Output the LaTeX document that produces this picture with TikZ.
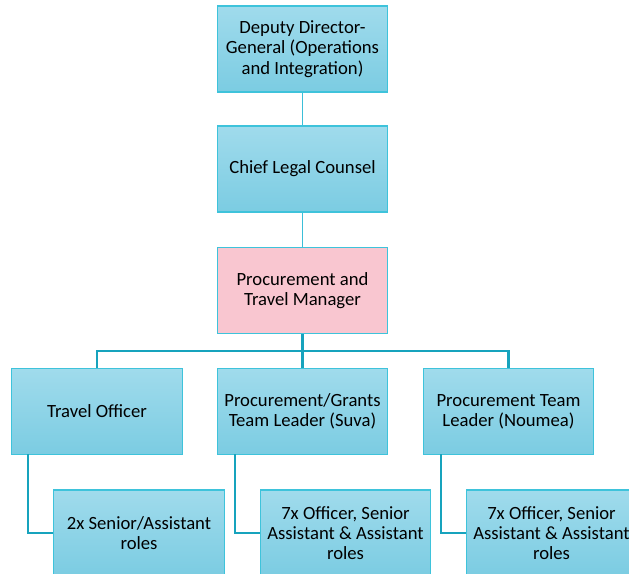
\documentclass[tikz,border=0pt]{standalone}
\usepackage{fontspec}
\setmainfont{Carlito}
\definecolor{boxtop}{HTML}{A0DBEC}
\definecolor{boxbot}{HTML}{7BCCE2}
\definecolor{boxline}{HTML}{3EC3DB}
\definecolor{linkthin}{HTML}{3BBFD8}
\definecolor{linkthick}{HTML}{17A3BD}
\definecolor{pinkfill}{HTML}{F9C6D0}
\begin{document}
\begin{tikzpicture}[x=0.75pt,y=-0.75pt,
    role/.style={draw=boxline, line width=0.9pt, top color=boxtop, bottom color=boxbot,
        minimum width=128pt, minimum height=64.5pt, align=center, inner sep=2pt,
        font=\fontsize{14}{15.2}\selectfont},
    lead/.style={role, top color=pinkfill, bottom color=pinkfill},
    thin link/.style={draw=linkthin, line width=0.9pt},
    thick link/.style={draw=linkthick, line width=1.6pt}]
    \path[use as bounding box, clip] (0,0) rectangle (629,574);
    \node[role] (ddg) at (302.5,49) {Deputy Director-\\General (Operations\\and Integration)};
    \node[role] (clc) at (302.5,169) {Chief Legal Counsel};
    \node[lead] (ptm) at (302.5,290.5) {Procurement and\\Travel Manager};
    \node[role] (to) at (97,411.5) {Travel Officer};
    \node[role] (suva) at (302.5,411.5) {Procurement/Grants\\Team Leader (Suva)};
    \node[role] (noumea) at (508.5,411.5) {Procurement Team\\Leader (Noumea)};
    \node[role] (tostaff) at (139,533) {2x Senior/Assistant\\roles};
    \node[role] (suvastaff) at (345.5,533) {7x Officer, Senior\\Assistant \& Assistant\\roles};
    \node[role] (noumeastaff) at (551.5,533) {7x Officer, Senior\\Assistant \& Assistant\\roles};
    \draw[thin link] (ddg) -- (clc);
    \draw[thin link] (clc) -- (ptm);
    \coordinate (bar) at (302.5,351);
    \draw[thick link] (ptm.south) -- (bar);
    \draw[thick link] (to.north) |- (bar) -| (noumea.north);
    \draw[thick link] (suva.north) -- (bar);
    \coordinate (toleg) at (28,454);
    \coordinate (suvaleg) at (235,454);
    \coordinate (noumealeg) at (441,454);
    \draw[thick link] (toleg) |- (tostaff.west);
    \draw[thick link] (suvaleg) |- (suvastaff.west);
    \draw[thick link] (noumealeg) |- (noumeastaff.west);
\end{tikzpicture}
\end{document}
